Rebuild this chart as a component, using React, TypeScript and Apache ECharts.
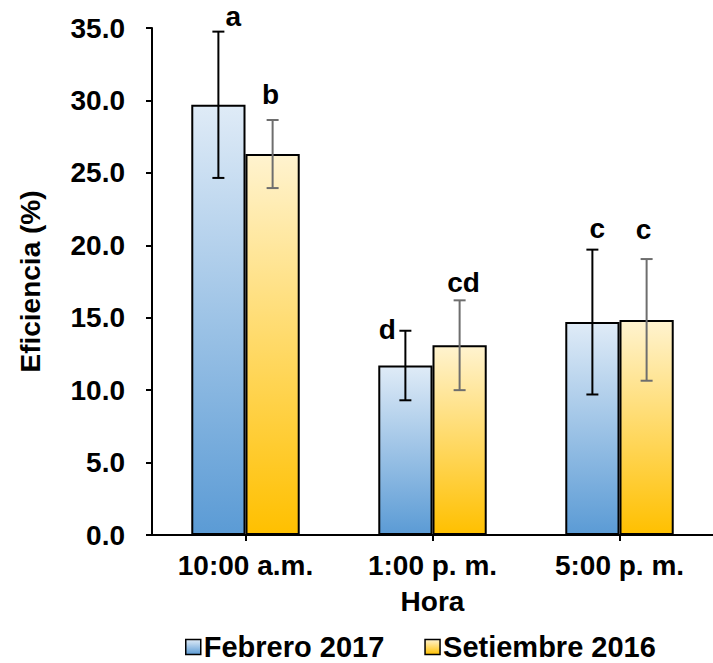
import { useEffect, useRef } from 'react';
import * as echarts from 'echarts';

const CATEGORIES = ['10:00 a.m.', '1:00 p. m.', '5:00 p. m.'];

const FEBRERO_NAME = 'Febrero 2017';
const FEBRERO = [29.7, 11.7, 14.7];
const FEBRERO_ERR = [5.05, 2.4, 5.0];
const FEBRERO_LETTERS = ['a', 'd', 'c'];

const SETIEMBRE_NAME = 'Setiembre 2016';
const SETIEMBRE = [26.3, 13.1, 14.85];
const SETIEMBRE_ERR = [2.35, 3.1, 4.2];
const SETIEMBRE_LETTERS = ['b', 'cd', 'c'];

const Y_MIN = 0;
const Y_MAX = 35;
const Y_STEP = 5;

// Hand placement of the significance letters relative to the top cap
// ([dx, baseline dy] in pixels)
const FEBRERO_LETTER_OFFSETS: [number, number][] = [[15, -5], [-18, 9], [5, -11]];
const SETIEMBRE_LETTER_OFFSETS: [number, number][] = [[-2, -15], [4, -8], [-3, -20]];

const FONT = '"Liberation Sans", Arial, Helvetica, sans-serif';
const BAR_WIDTH = 0.29;

function errorBars(
  shift: number,
  color: string,
  letters: string[],
  offsets: [number, number][]
) {
  return (params: any, api: any) => {
    const i = api.value(0);
    const v = api.value(1);
    const e = api.value(2);
    const band = api.size([1, 0])[0];
    const cx = api.coord([i, v])[0] + shift * band;
    const yTop = api.coord([i, v + e])[1];
    const yBot = api.coord([i, v - e])[1];
    const cap = 6;
    const st = { stroke: color, lineWidth: 2 };
    const [dx, dy] = offsets[params.dataIndex];
    return {
      type: 'group',
      children: [
        { type: 'line', shape: { x1: cx, y1: yTop, x2: cx, y2: yBot }, style: st },
        { type: 'line', shape: { x1: cx - cap, y1: yTop, x2: cx + cap, y2: yTop }, style: st },
        { type: 'line', shape: { x1: cx - cap, y1: yBot, x2: cx + cap, y2: yBot }, style: st },
        {
          type: 'text',
          x: cx + dx,
          y: yTop + dy - 10,
          style: {
            text: letters[params.dataIndex],
            font: `bold 28px ${FONT}`,
            fill: '#000',
            align: 'center',
            verticalAlign: 'middle',
          },
        },
      ],
    };
  };
}

export default function App() {
  const ref = useRef<HTMLDivElement>(null);

  useEffect(() => {
    const chart = echarts.init(ref.current!, null, { renderer: 'svg' });

    const blue = new echarts.graphic.LinearGradient(0, 0, 0, 1, [
      { offset: 0, color: '#DFEBF7' },
      { offset: 1, color: '#5B9BD5' },
    ]);
    const yellow = new echarts.graphic.LinearGradient(0, 0, 0, 1, [
      { offset: 0, color: '#FFF3CF' },
      { offset: 1, color: '#FFC000' },
    ]);

    const axisText = { fontFamily: FONT, fontWeight: 'bold' as const, fontSize: 28, color: '#000' };
    const axisLine = { show: true, lineStyle: { color: '#000', width: 2 } };

    chart.setOption({
      animation: false,
      backgroundColor: '#fff',
      grid: { left: 152, top: 28, width: 565, height: 507, containLabel: false },
      legend: {
        data: [FEBRERO_NAME, SETIEMBRE_NAME],
        left: 185,
        top: 632,
        padding: 0,
        itemWidth: 15,
        itemHeight: 15,
        itemGap: 40,
        icon: 'rect',
        itemStyle: { borderColor: '#000', borderWidth: 1.5 },
        textStyle: {
          fontFamily: FONT,
          fontWeight: 'bold',
          fontSize: 29,
          lineHeight: 30,
          color: '#000',
          padding: [0, 0, 0, -2],
        },
      },
      xAxis: {
        type: 'category',
        data: CATEGORIES,
        axisLine,
        axisTick: { show: true, alignWithLabel: true, length: 6, lineStyle: { color: '#000', width: 2 } },
        axisLabel: { ...axisText, margin: 16 },
        name: 'Hora',
        nameLocation: 'middle',
        nameGap: 52,
        nameTextStyle: axisText,
      },
      yAxis: {
        type: 'value',
        min: Y_MIN,
        max: Y_MAX,
        interval: Y_STEP,
        splitLine: { show: false },
        axisLine,
        axisTick: { show: true, length: 6, lineStyle: { color: '#000', width: 2 } },
        axisLabel: { ...axisText, margin: 27, formatter: (v: number) => v.toFixed(1) },
        name: 'Eficiencia (%)',
        nameLocation: 'middle',
        nameGap: 108,
        nameTextStyle: axisText,
      },
      series: [
        {
          type: 'bar',
          name: FEBRERO_NAME,
          data: FEBRERO,
          barWidth: `${BAR_WIDTH * 100}%`,
          barGap: '0%',
          itemStyle: { color: blue, borderColor: '#000', borderWidth: 2 },
        },
        {
          type: 'bar',
          name: SETIEMBRE_NAME,
          data: SETIEMBRE,
          barWidth: `${BAR_WIDTH * 100}%`,
          barGap: '0%',
          itemStyle: { color: yellow, borderColor: '#000', borderWidth: 2 },
        },
        {
          type: 'custom',
          name: 'err-feb',
          z: 10,
          data: FEBRERO.map((v, i) => [i, v, FEBRERO_ERR[i]]),
          renderItem: errorBars(-BAR_WIDTH / 2, '#000', FEBRERO_LETTERS, FEBRERO_LETTER_OFFSETS),
        },
        {
          type: 'custom',
          name: 'err-set',
          z: 10,
          data: SETIEMBRE.map((v, i) => [i, v, SETIEMBRE_ERR[i]]),
          renderItem: errorBars(BAR_WIDTH / 2, '#6E6E6E', SETIEMBRE_LETTERS, SETIEMBRE_LETTER_OFFSETS),
        },
      ],
    });

    return () => chart.dispose();
  }, []);

  return (
    <div
      ref={ref}
      style={{ position: 'fixed', left: 0, top: 0, width: 713, height: 663, background: '#fff' }}
    />
  );
}
